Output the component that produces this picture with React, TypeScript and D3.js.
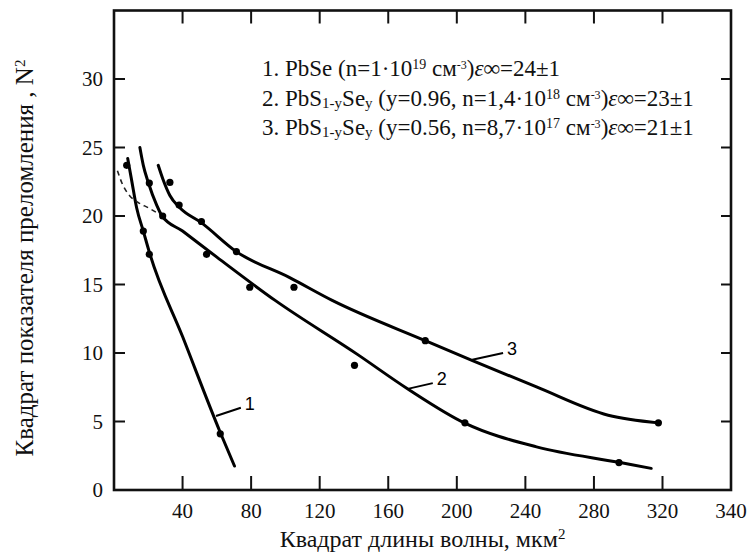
import * as d3 from 'd3';

// tick values
const xTicks = [40, 80, 120, 160, 200, 240, 280, 320];
const xTickLabels = [40, 80, 120, 160, 200, 240, 280, 320, 340];
const yTicks = [5, 10, 15, 20, 25, 30];
const yTickLabels = [0, 5, 10, 15, 20, 25, 30];

// curves: [lambda^2, N^2]
const curve1 = [[8.0, 24.2], [10.3, 22.6], [13.2, 20.6], [17.1, 18.9], [21.0, 17.2], [40, 11.2], [62, 4.2], [70.3, 1.75]];
const curve2 = [[15.1, 25.0], [17.1, 23.7], [20.0, 22.45], [24.9, 20.8], [27.8, 20.05], [40, 18.9], [60, 17.0], [94, 13.84], [142, 9.9], [171, 7.41], [205, 4.86], [246.5, 3.15], [294.6, 2.02], [313.4, 1.58]];
const curve3 = [[25.8, 23.7], [28.5, 22.7], [32.6, 21.5], [38.4, 20.6], [51.1, 19.5], [71.4, 17.4], [102.5, 15.5], [127.3, 13.84], [181.6, 10.9], [208.8, 9.47], [246.5, 7.52], [288.3, 5.46], [317.6, 4.9]];
const dashed = [[2, 23.3], [5, 22.3], [9, 21.5], [14, 21.0], [20, 20.6], [27, 20.1]];

const points1 = [[7.4, 23.7], [17.1, 18.9], [20.6, 17.2], [62, 4.1]];
const points2 = [[20.6, 22.4], [28.4, 20.0], [54, 17.2], [79.2, 14.8], [140.3, 9.1], [204.7, 4.9], [294.6, 2.0]];
const points3 = [[32.6, 22.45], [38, 20.8], [51, 19.6], [71.4, 17.4], [105, 14.8], [181.6, 10.9], [317.6, 4.9]];

// curve labels: leader from a point on the curve to the number
const curveLabels = [
  { name: '1', from: [59.5, 5.4], to: [74, 6.0] },
  { name: '2', from: [172, 7.4], to: [186, 7.8] },
  { name: '3', from: [209, 9.5], to: [227, 10.0] },
];

const W = 749;
const H = 557;
const left = 114;
const right = 731;
const top = 10.5;
const bottom = 490;

const serif = '"Liberation Serif", "Times New Roman", serif';
const sans = '"Liberation Sans", Arial, sans-serif';

export default function App() {
  // the original axis squeezes 320..340 into the last stretch
  const x = d3.scaleLinear().domain([0, 320, 340]).range([left, 662.5, right]);
  const y = d3.scaleLinear().domain([0, 35]).range([bottom, top]);

  const line = d3
    .line<number[]>()
    .x((d) => x(d[0]))
    .y((d) => y(d[1]))
    .curve(d3.curveMonotoneX);

  const small = 15;
  const sup = 14;

  return (
    <svg width={W} height={H} style={{ position: 'absolute', left: 0, top: 0, background: '#fff' }}>
      <rect x={0} y={0} width={W} height={H} fill='#fff' />

      {/* frame */}
      <rect x={left} y={top} width={right - left} height={bottom - top} fill='none' stroke='#111' strokeWidth={2.6} />

      {xTicks.map((t) => (
        <g key={'xt' + t} stroke='#111' strokeWidth={2}>
          <line x1={x(t)} x2={x(t)} y1={bottom} y2={bottom - 14} />
          <line x1={x(t)} x2={x(t)} y1={top} y2={top + 13} />
        </g>
      ))}
      {yTicks.map((t) => (
        <g key={'yt' + t} stroke='#111' strokeWidth={2}>
          <line x1={left} x2={left + 11} y1={y(t)} y2={y(t)} />
          <line x1={right} x2={right - 10} y1={y(t)} y2={y(t)} />
        </g>
      ))}

      {xTickLabels.map((t) => (
        <text key={'xl' + t} x={x(t)} y={bottom + 28} textAnchor='middle' fontFamily={serif} fontSize={21} fill='#111'>
          {t}
        </text>
      ))}
      {yTickLabels.map((t) => (
        <text key={'yl' + t} x={left - 11} y={y(t) + 7} textAnchor='end' fontFamily={serif} fontSize={21} fill='#111'>
          {t}
        </text>
      ))}

      {/* curves */}
      {[curve1, curve2, curve3].map((c, i) => (
        <path key={'c' + i} d={line(c) || ''} fill='none' stroke='#000' strokeWidth={3} strokeLinecap='round' />
      ))}
      <path d={line(dashed) || ''} fill='none' stroke='#222' strokeWidth={1.6} strokeDasharray='5,4' />

      {[...points1, ...points2, ...points3].map((p, i) => (
        <circle key={'p' + i} cx={x(p[0])} cy={y(p[1])} r={3.6} fill='#000' />
      ))}

      {curveLabels.map((l) => (
        <g key={'l' + l.name}>
          <line x1={x(l.from[0])} y1={y(l.from[1])} x2={x(l.to[0])} y2={y(l.to[1])} stroke='#000' strokeWidth={2} />
          <text x={x(l.to[0]) + 4} y={y(l.to[1]) + 2} fontFamily={sans} fontSize={18} fill='#000'>
            {l.name}
          </text>
        </g>
      ))}

      {/* legend */}
      <g fontFamily={serif} fontSize={23} fill='#111'>
        <text x={262} y={76}>
          1. PbSe (n=1·10<tspan fontSize={sup} baselineShift='super'>19</tspan> см<tspan fontSize={sup - 2} baselineShift='super'>-3</tspan>)<tspan fontStyle='italic'>ε∞</tspan>=24±1
        </text>
        <text x={262} y={106}>
          2. PbS<tspan fontSize={small} baselineShift='-2'>1-y</tspan>Se<tspan fontSize={small} baselineShift='-2'>y</tspan> (y=0.96, n=1,4·10<tspan fontSize={sup} baselineShift='super'>18</tspan> см<tspan fontSize={sup - 2} baselineShift='super'>-3</tspan>)<tspan fontStyle='italic'>ε∞</tspan>=23±1
        </text>
        <text x={262} y={135}>
          3. PbS<tspan fontSize={small} baselineShift='-2'>1-y</tspan>Se<tspan fontSize={small} baselineShift='-2'>y</tspan> (y=0.56, n=8,7·10<tspan fontSize={sup} baselineShift='super'>17</tspan> см<tspan fontSize={sup - 2} baselineShift='super'>-3</tspan>)<tspan fontStyle='italic'>ε∞</tspan>=21±1
        </text>
      </g>

      {/* axis titles */}
      <text x={(left + right) / 2} y={547} textAnchor='middle' fontFamily={serif} fontSize={24} fill='#111'>
        Квадрат длины волны, мкм<tspan fontSize={15} baselineShift='super'>2</tspan>
      </text>
      <text transform={`translate(33, 258) rotate(-90)`} textAnchor='middle' fontFamily={serif} fontSize={25} fill='#111'>
        Квадрат показателя преломления , N<tspan fontSize={15} baselineShift='super'>2</tspan>
      </text>
    </svg>
  );
}
